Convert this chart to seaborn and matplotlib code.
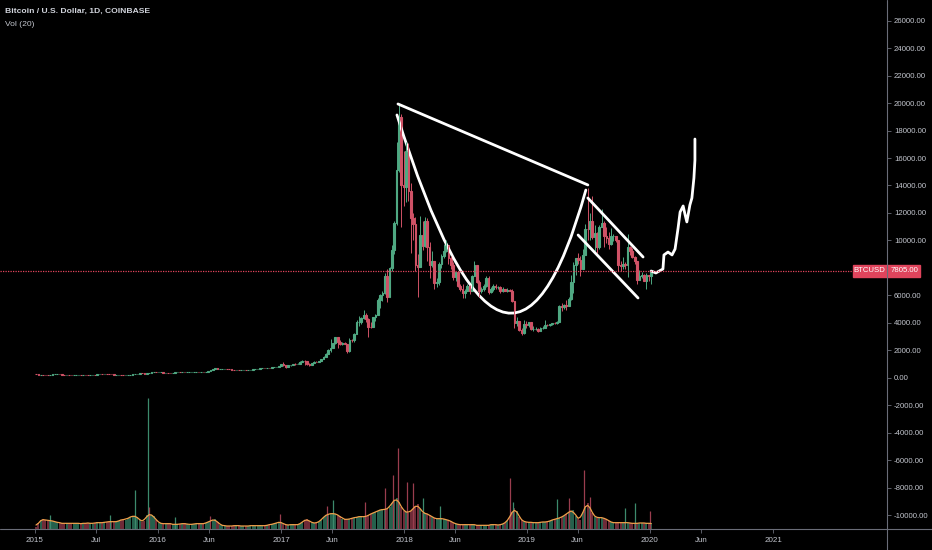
import pandas as pd
import seaborn as sns
import matplotlib.pyplot as plt
from matplotlib.patches import Rectangle, PathPatch
from matplotlib.path import Path
from matplotlib.lines import Line2D
from matplotlib.transforms import blended_transform_factory
import matplotlib.dates as mdates

# ---- weekly BTC/USD (Coinbase) closes, weeks ending Sunday, first one 2015-01-04 ----
first_open = 315
close_2015 = [274, 210, 248, 230,
              225, 222, 240, 255,
              275, 285, 270, 250, 247,
              253, 235, 222, 225,
              235, 240, 237, 240, 237,
              225, 230, 245, 243,
              255, 290, 275, 290,
              280, 265, 258, 228, 230,
              240, 232, 230, 235,
              240, 245, 262, 285,
              325, 385, 330, 325, 360,
              390, 435, 455, 420]
close_2016 = [430, 450, 385, 395, 380,
              375, 380, 420, 430,
              410, 415, 410, 415,
              420, 420, 440, 460,
              450, 460, 455, 470, 530,
              575, 680, 760, 630,
              650, 660, 665, 655, 625,
              590, 570, 575, 570,
              605, 610, 605, 605,
              615, 640, 655, 690, 700,
              710, 705, 740, 735,
              765, 775, 790, 900]
close_2017 = [1000, 910, 820, 920, 920,
              1020, 1000, 1050, 1180,
              1270, 1230, 1020, 960,
              1100, 1190, 1180, 1250, 1350,
              1560, 1770, 2050, 2180,
              2520, 2960, 2600, 2500,
              2520, 2500, 1930, 2750, 2730,
              3230, 4050, 4090, 4350,
              4580, 4320, 3700, 3680,
              4400, 4600, 5700, 6000, 6150,
              7400, 5900, 8000, 9300,
              11300, 15100, 19000, 14000, 13900]
close_2018 = [16500, 13600, 11600, 11200,
              8200, 8100, 10400, 9600,
              11400, 9500, 8200, 8500,
              6900, 7000, 8300, 8900, 9250,
              9650, 8700, 8250, 7350,
              7700, 6700, 6450, 6150,
              6350, 6700, 6350, 7400, 8200,
              7000, 6300, 6500, 6700,
              7300, 6250, 6500, 6700, 6600,
              6600, 6300, 6450, 6350,
              6420, 6350, 5600, 4000,
              4150, 3500, 3250, 3950, 3850]
close_2019 = [4050, 3550, 3550, 3550,
              3450, 3650, 3650, 3850,
              3820, 3930, 4000, 3990, 4100,
              5200, 5150, 5300, 5200,
              5750, 6980, 8200, 8750,
              8550, 7950, 8950, 10850, 10800,
              11450, 10250, 10580, 9500,
              11000, 11300, 10300, 10150,
              9750, 10350, 10350, 10050, 8250,
              8150, 8300, 8230, 9550,
              9200, 8800, 8500, 7100,
              7400, 7500, 7070, 7500, 7400]
close_2020 = [7805]

# weekly highs / lows from 2017 on (earlier wicks are too small to see)
high_2017 = [1000, 1150, 910, 930, 925, 1030, 1060, 1060, 1200, 1290, 1290, 1260, 1060,
             1110, 1210, 1220, 1260, 1360, 1620, 1830, 2100, 2800, 2550, 3000, 2980, 2780,
             2600, 2650, 2450, 2920, 2820, 3300, 4200, 4480, 4450, 4980, 4700, 4350, 4100,
             4450, 4650, 5850, 6100, 6300, 7600, 7900, 8100, 9700, 11400, 17200, 19900, 19200, 16500]
low_2017 = [890, 850, 760, 810, 890, 915, 940, 990, 1040, 1180, 980, 950, 890,
            960, 1080, 1150, 1180, 1240, 1350, 1550, 1730, 1900, 2150, 2450, 2200, 2400,
            2380, 2450, 1840, 1900, 2600, 2650, 3200, 3800, 3950, 4300, 4100, 2980, 3600,
            3800, 4150, 4600, 5100, 5600, 6100, 5550, 6000, 7800, 9000, 11100, 15000, 11000, 12500]
high_2018 = [17200, 17100, 14200, 12000, 11700, 9000, 11800, 11400, 11700, 11600, 9900, 9200,
             8500, 7250, 8400, 9050, 9750, 10000, 9700, 8900, 8400, 7700, 7750, 6800, 6800,
             6500, 6800, 6750, 7500, 8500, 8200, 7150, 6620, 6800, 7400, 7400, 6600, 6800, 6800,
             6700, 6700, 6600, 6500, 6560, 6500, 6450, 5600, 4400, 4150, 3600, 4200, 4150]
low_2018 = [12800, 12900, 9100, 10000, 7800, 5900, 8100, 9300, 9500, 8500, 7300, 8100,
            6500, 6600, 6750, 8000, 8700, 9150, 8300, 7900, 7100, 7050, 6600, 6300, 5800,
            5800, 6300, 6100, 6350, 7400, 6900, 5880, 6200, 6300, 6650, 6100, 6150, 6300, 6450,
            6500, 6150, 6280, 6320, 6250, 6300, 5500, 3600, 3800, 3400, 3130, 3200, 3650]
high_2019 = [4100, 4100, 3750, 3700, 3600, 3720, 3750, 4200, 3900, 3950, 4030, 4080, 4150,
             5300, 5450, 5400, 5650, 5900, 7500, 8400, 8200, 9100, 8900, 9400, 11200, 13850,
             12000, 13200, 11100, 10600, 11100, 12300, 11400, 10950, 10600, 10900, 10450, 10300, 10050,
             8500, 8800, 8450, 10500, 9600, 9450, 8850, 8500, 7850, 7700, 7550, 7600, 7520]
low_2019 = [3680, 3500, 3450, 3500, 3350, 3400, 3580, 3650, 3750, 3780, 3850, 3940, 3900,
            4100, 4900, 5020, 4950, 5200, 5700, 6200, 7500, 8300, 7450, 8000, 9000, 10000,
            10000, 10100, 9200, 9100, 9400, 11000, 9500, 9800, 9350, 9700, 9950, 9900, 7750,
            7800, 7900, 7900, 7350, 8950, 8700, 8300, 6800, 7100, 7250, 7050, 6450, 7050]
high_2020 = [7850]
low_2020 = [6850]

# weekly volume (arbitrary units, same weeks as the closes)
vol_2015 = [2, 6, 9, 10, 9, 8, 9, 8, 7, 7, 6, 6, 5, 6, 6, 5, 6, 6, 5, 6, 5, 6, 6,
            6, 5, 6, 7, 6, 6, 7, 7, 7, 8, 7, 7, 8, 9, 10, 9, 11, 12, 13, 13, 12,
            9, 7, 8, 14, 15, 14, 13, 9]
vol_2016 = [6, 6, 5, 5, 6, 5, 5, 4, 5, 5, 5, 6, 5, 4, 5, 5, 5, 6, 5, 5, 6,
            7, 8, 9, 10, 7, 4, 4, 3, 3, 3, 3, 3, 4, 3, 3, 3, 3, 3, 3, 4, 3, 3, 4, 3, 3, 4, 4, 5,
            5, 6, 7]
vol_2017 = [7, 5, 4, 4, 4, 5, 4, 4, 5, 7, 9, 10, 8, 6, 6, 6, 7, 9, 12,
            14, 15, 15, 16, 15, 14, 13, 10, 10, 9, 10, 11, 11, 12, 12, 13, 12, 12, 14, 15,
            16, 17, 18, 19, 20, 19, 20, 22, 26, 29, 31, 27, 22, 18]
vol_2018 = [17, 16, 18, 20, 23, 25, 20, 16, 16, 15, 14, 12, 11, 10, 10, 11, 10, 9, 9, 8,
            6, 5, 5, 4, 4, 5, 4, 4, 5, 4, 4, 3, 4, 4, 3, 4, 4, 5, 4, 4, 4, 5,
            6, 8, 12, 17, 21, 18, 12, 9, 7, 7]
vol_2019 = [7, 6, 7, 6, 6, 7, 7, 7, 7, 8, 9, 10, 10, 11, 12, 13, 15, 17, 18, 19, 13, 10, 9,
            17, 23, 26, 22, 16, 12, 11, 12, 11, 11, 10, 8, 7,
            6, 6, 7, 6, 6, 7, 6, 6, 6, 5, 6, 6, 6, 6, 6, 5]
vol_2020 = [6]

# single-day volume spikes
spike_dates = ['2015-02-15', '2015-08-12', '2015-10-25', '2015-12-03', '2015-12-06', '2016-02-21',
               '2016-06-04', '2016-12-29', '2017-05-17', '2017-06-04', '2017-09-07', '2017-11-06',
               '2017-11-29', '2017-12-14', '2018-01-10', '2018-01-28', '2018-02-26', '2018-04-18',
               '2018-11-12', '2018-11-21', '2019-03-31', '2019-05-06', '2019-06-20', '2019-07-07',
               '2019-10-19', '2019-11-18', '2020-01-02']
spike_vols = [14, 14, 39, 131, 22, 12, 13, 15, 23, 29, 27, 41,
              54, 81, 47, 46, 31, 23, 51, 27, 30, 31, 59, 32, 21, 26, 18]
spike_up = [1, 1, 1, 1, 0, 1, 0, 0, 0, 1, 0, 0,
            0, 0, 0, 0, 1, 1, 0, 1, 1, 0, 0, 0, 1, 1, 0]

# hand-drawn annotations (date, price)
trend_dates = ['2017-12-14', '2019-07-01']
trend_prices = [19930, 14040]
cup_dates = ['2017-12-11', '2018-11-07', '2019-06-25']   # quadratic bezier control points
cup_prices = [19130, -6655, 13670]
flag_top_dates = ['2019-07-01', '2019-12-12']
flag_top_prices = [13090, 8800]
flag_low_dates = ['2019-06-02', '2019-11-27']
flag_low_prices = [10400, 5820]
proj_dates = ['2020-01-05', '2020-01-19', '2020-02-09', '2020-02-12', '2020-02-24', '2020-03-07',
              '2020-03-16', '2020-03-25', '2020-03-31', '2020-04-09', '2020-04-15', '2020-04-20',
              '2020-04-29', '2020-05-05', '2020-05-11', '2020-05-14', '2020-05-14']
proj_prices = [7780, 7640, 7930, 8950, 9160, 8950, 9380, 10910, 12070, 12510, 11850, 11350,
               12580, 13090, 14550, 15850, 17380]

tick_dates = ['2015-01-01', '2015-07-01', '2016-01-01', '2016-06-01', '2017-01-01', '2017-06-01',
              '2018-01-01', '2018-06-01', '2019-01-01', '2019-06-01', '2020-01-01', '2020-06-01',
              '2021-01-01']
tick_labels = ['2015', 'Jul', '2016', 'Jun', '2017', 'Jun', '2018', 'Jun', '2019', 'Jun', '2020',
               'Jun', '2021']
# 8000 sits under the last-price tag, so it is left out
price_ticks = [-10000, -8000, -6000, -4000, -2000, 0, 2000, 4000, 6000,
               10000, 12000, 14000, 16000, 18000, 20000, 22000, 24000, 26000]

# colours
UP, DOWN = '#4fa882', '#cf5266'
VUP, VDOWN = '#25604c', '#6e2b38'
GRID = '#6a6d78'
TXT = '#c3c6ce'
LAST = '#e0445c'
FONT = ['Liberation Sans', 'DejaVu Sans']

# ---- frames ----
closes = close_2015 + close_2016 + close_2017 + close_2018 + close_2019 + close_2020
df = pd.DataFrame({
    'date': pd.date_range('2015-01-04', periods=len(closes), freq='7D'),
    'close': closes,
    'vol': vol_2015 + vol_2016 + vol_2017 + vol_2018 + vol_2019 + vol_2020,
})
df['open'] = df['close'].shift(1).fillna(first_open)
df['up'] = df['close'] >= df['open']
df['bottom'] = df[['open', 'close']].min(axis=1)
df['body'] = (df['close'] - df['open']).abs()

wk = pd.DataFrame({'high': high_2017 + high_2018 + high_2019 + high_2020,
                   'low': low_2017 + low_2018 + low_2019 + low_2020})
wk['date'] = df['date'].values[-len(wk):]
wk['up'] = df['up'].values[-len(wk):]

spikes = pd.DataFrame({'date': pd.to_datetime(spike_dates), 'vol': spike_vols, 'up': spike_up})

# ---- style ----
sns.set_theme(style='dark', rc={'axes.facecolor': 'black', 'figure.facecolor': 'black',
                                'axes.grid': False, 'savefig.facecolor': 'black'})
plt.rcParams['font.family'] = FONT

W, H = 932, 550
fig = plt.figure(figsize=(W / 100, H / 100), dpi=100)
ax = fig.add_axes([0, 21 / H, 887 / W, 529 / H])
axv = ax.twinx()
ax.set_zorder(axv.get_zorder() + 1)
ax.patch.set_visible(False)

# volume pane
vcol = [VUP if u else VDOWN for u in df['up']]
axv.bar(df['date'], df['vol'], width=6, color=vcol, linewidth=0)
axv.vlines(spikes['date'], 0, spikes['vol'], linewidth=0.9,
           colors=['#3c8a6c' if u else '#9a3d4e' for u in spikes['up']])
ma = df['vol'].rolling(3, center=True, min_periods=1).mean()
sns.lineplot(x=df['date'], y=ma, ax=axv, color='#f0a04b', linewidth=0.9)
axv.set_ylim(0, 529)
axv.set_yticks([])
axv.set_ylabel('')
axv.set_xlabel('')

# candles
ax.vlines(wk['date'], wk['low'], wk['high'], colors=[UP if u else DOWN for u in wk['up']],
          linewidth=0.7)
ccol = [UP if u else DOWN for u in df['up']]
ax.bar(df['date'], df['body'], bottom=df['bottom'], width=5, color=ccol,
       edgecolor=ccol, linewidth=0.8)

# drawings
lw = 2.0
ax.plot(pd.to_datetime(trend_dates), trend_prices, color='white', lw=lw, solid_capstyle='round')
ax.plot(pd.to_datetime(flag_top_dates), flag_top_prices, color='white', lw=lw, solid_capstyle='round')
ax.plot(pd.to_datetime(flag_low_dates), flag_low_prices, color='white', lw=lw, solid_capstyle='round')
cup_x = mdates.date2num(pd.to_datetime(cup_dates))
cup = Path(list(zip(cup_x, cup_prices)), [Path.MOVETO, Path.CURVE3, Path.CURVE3])
ax.add_patch(PathPatch(cup, fill=False, edgecolor='white', lw=lw, capstyle='round'))
sns.lineplot(x=pd.to_datetime(proj_dates), y=proj_prices, ax=ax, sort=False, estimator=None,
             color='white', linewidth=2.0)

# last price line + label
last = closes[-1]
ax.axhline(last, xmax=853 / 887, color=LAST, lw=0.9, ls=(0, (1, 1)))
bt = blended_transform_factory(fig.transFigure, ax.transData)
ax.add_patch(Rectangle((853 / W, last - 440), 67 / W, 880, transform=bt, color=LAST,
                       clip_on=False, zorder=5))
ax.text(869.5 / W, last, 'BTCUSD', transform=bt, ha='center', va='center', color='white',
        fontsize=5.6, zorder=6)
ax.text(905 / W, last, f'{last:.2f}', transform=bt, ha='center', va='center', color='white',
        fontsize=5.6, zorder=6)

# axes
px_day = 0.3367
x0 = pd.Timestamp('2015-01-01') - pd.Timedelta(days=35 / px_day)
ax.set_xlim(x0, x0 + pd.Timedelta(days=887 / px_day))
ax.set_ylim(-10982, 27491)
ax.yaxis.tick_right()
ax.set_yticks(price_ticks)
ax.set_yticklabels([f'{v:.2f}' for v in price_ticks])
ax.set_xticks(pd.to_datetime(tick_dates))
ax.set_xticklabels(tick_labels)
ax.tick_params(axis='y', right=True, left=False, length=3, width=0.6, color=GRID,
               labelcolor=TXT, labelsize=5.6, pad=2)
ax.tick_params(axis='x', bottom=True, length=3, width=0.6, color=GRID, labelcolor=TXT,
               labelsize=5.8, pad=3)
ax.set_xlabel('')
ax.set_ylabel('')
for a in (ax, axv):
    for s in a.spines.values():
        s.set_visible(False)

fig.add_artist(Line2D([887 / W, 887 / W], [0, 1], color=GRID, lw=0.8, zorder=10))
fig.add_artist(Line2D([0, 1], [21 / H, 21 / H], color=GRID, lw=0.8, zorder=10))

fig.text(5 / W, 1 - 11 / H, 'Bitcoin / U.S. Dollar, 1D, COINBASE', va='center', ha='left',
         color='#d1d4dc', fontsize=6.1, fontweight='bold')
fig.text(5 / W, 1 - 24 / H, 'Vol (20)', va='center', ha='left', color=TXT, fontsize=6.1)

fig.savefig('out.png', dpi=100)
